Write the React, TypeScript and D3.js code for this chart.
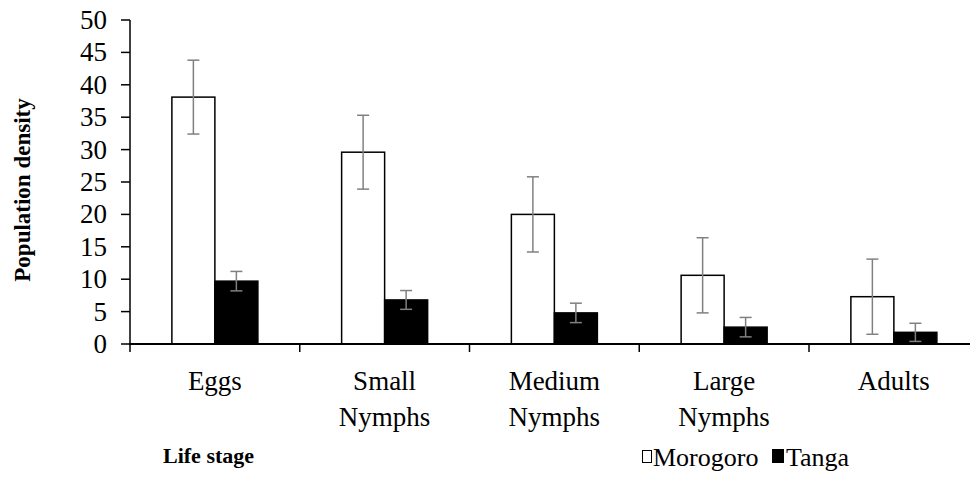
import React from 'react';
import * as d3 from 'd3';

const stages = ['Eggs', 'Small Nymphs', 'Medium Nymphs', 'Large Nymphs', 'Adults'];
const seriesNames = ['Morogoro', 'Tanga'];
const morogoro = [38.1, 29.6, 20.0, 10.6, 7.3];
const morogoroErr = [5.7, 5.7, 5.8, 5.8, 5.8];
const tanga = [9.7, 6.8, 4.8, 2.6, 1.8];
const tangaErr = [1.5, 1.45, 1.5, 1.5, 1.4];
const yTicks = [0, 5, 10, 15, 20, 25, 30, 35, 40, 45, 50];

const W = 970;
const H = 501;
const serif = { fontFamily: 'Liberation Serif' };

export default function App() {
  const x = d3.scaleBand().domain(stages).range([130, 978.75]).paddingInner(0).paddingOuter(0);
  const y = d3.scaleLinear().domain([0, 50]).range([344, 20]);

  const series = [
    { name: seriesNames[0], values: morogoro, errs: morogoroErr, fill: '#ffffff' },
    { name: seriesNames[1], values: tanga, errs: tangaErr, fill: '#000000' },
  ];
  const barW = 43;

  return (
    <svg width={W} height={H} style={{ position: 'absolute', left: 0, top: 0, background: '#fff', fontFamily: 'Liberation Serif' }}>
      {/* y axis */}
      <line x1={130} x2={130} y1={y(50)} y2={y(0)} stroke="#000" strokeWidth={1.5} />
      {yTicks.map(t => (
        <g key={t}>
          <line x1={121} x2={130} y1={y(t)} y2={y(t)} stroke="#000" strokeWidth={1.5} />
          <text x={107} y={y(t) + 9} textAnchor="end" fontSize={27} style={serif}>{t}</text>
        </g>
      ))}
      <text transform={`translate(30,190) rotate(-90)`} textAnchor="middle" fontSize={23} fontWeight="bold" style={serif}>
        Population density
      </text>

      {/* bars */}
      {stages.map((s, i) => {
        const cx = (x(s) as number) + x.bandwidth() / 2;
        return (
          <g key={s}>
            {series.map((sr, j) => {
              const bx = j === 0 ? cx - barW : cx;
              const v = sr.values[i];
              return (
                <rect key={sr.name} x={bx} y={y(v)} width={barW} height={y(0) - y(v)}
                  fill={sr.fill} stroke="#000" strokeWidth={1.5} />
              );
            })}
          </g>
        );
      })}

      {/* x axis */}
      <line x1={129} x2={W} y1={y(0)} y2={y(0)} stroke="#000" strokeWidth={2.2} />
      {stages.map((s, i) => (
        <line key={'t' + i} x1={x(s) as number} x2={x(s) as number} y1={y(0)} y2={y(0) + 8} stroke="#000" strokeWidth={1.5} />
      ))}

      {/* error bars */}
      {stages.map((s, i) => {
        const cx = (x(s) as number) + x.bandwidth() / 2;
        return series.map((sr, j) => {
          const ex = j === 0 ? cx - barW / 2 : cx + barW / 2;
          const v = sr.values[i];
          const e = sr.errs[i];
          return (
            <g key={s + sr.name} stroke="#808080" strokeWidth={1.5}>
              <line x1={ex} x2={ex} y1={y(v + e)} y2={y(v - e)} />
              <line x1={ex - 6} x2={ex + 6} y1={y(v + e)} y2={y(v + e)} />
              <line x1={ex - 6} x2={ex + 6} y1={y(v - e)} y2={y(v - e)} />
            </g>
          );
        });
      })}

      {/* category labels, one text per line */}
      {stages.map(s => {
        const cx = (x(s) as number) + x.bandwidth() / 2;
        return s.split(' ').map((p, k) => (
          <text key={'l' + s + k} x={cx} y={390 + k * 36} textAnchor="middle" fontSize={27} style={serif}>{p}</text>
        ));
      })}

      <text x={163} y={463} fontSize={22} fontWeight="bold" style={serif}>Life stage</text>

      {/* legend */}
      <rect x={642.5} y={450.5} width={9} height={12} fill="#fff" stroke="#000" strokeWidth={1} />
      <text x={653} y={466} fontSize={26} style={serif}>{seriesNames[0]}</text>
      <rect x={772} y={449} width={12} height={14} fill="#000" />
      <text x={786} y={466} fontSize={26} style={serif}>{seriesNames[1]}</text>
    </svg>
  );
}
